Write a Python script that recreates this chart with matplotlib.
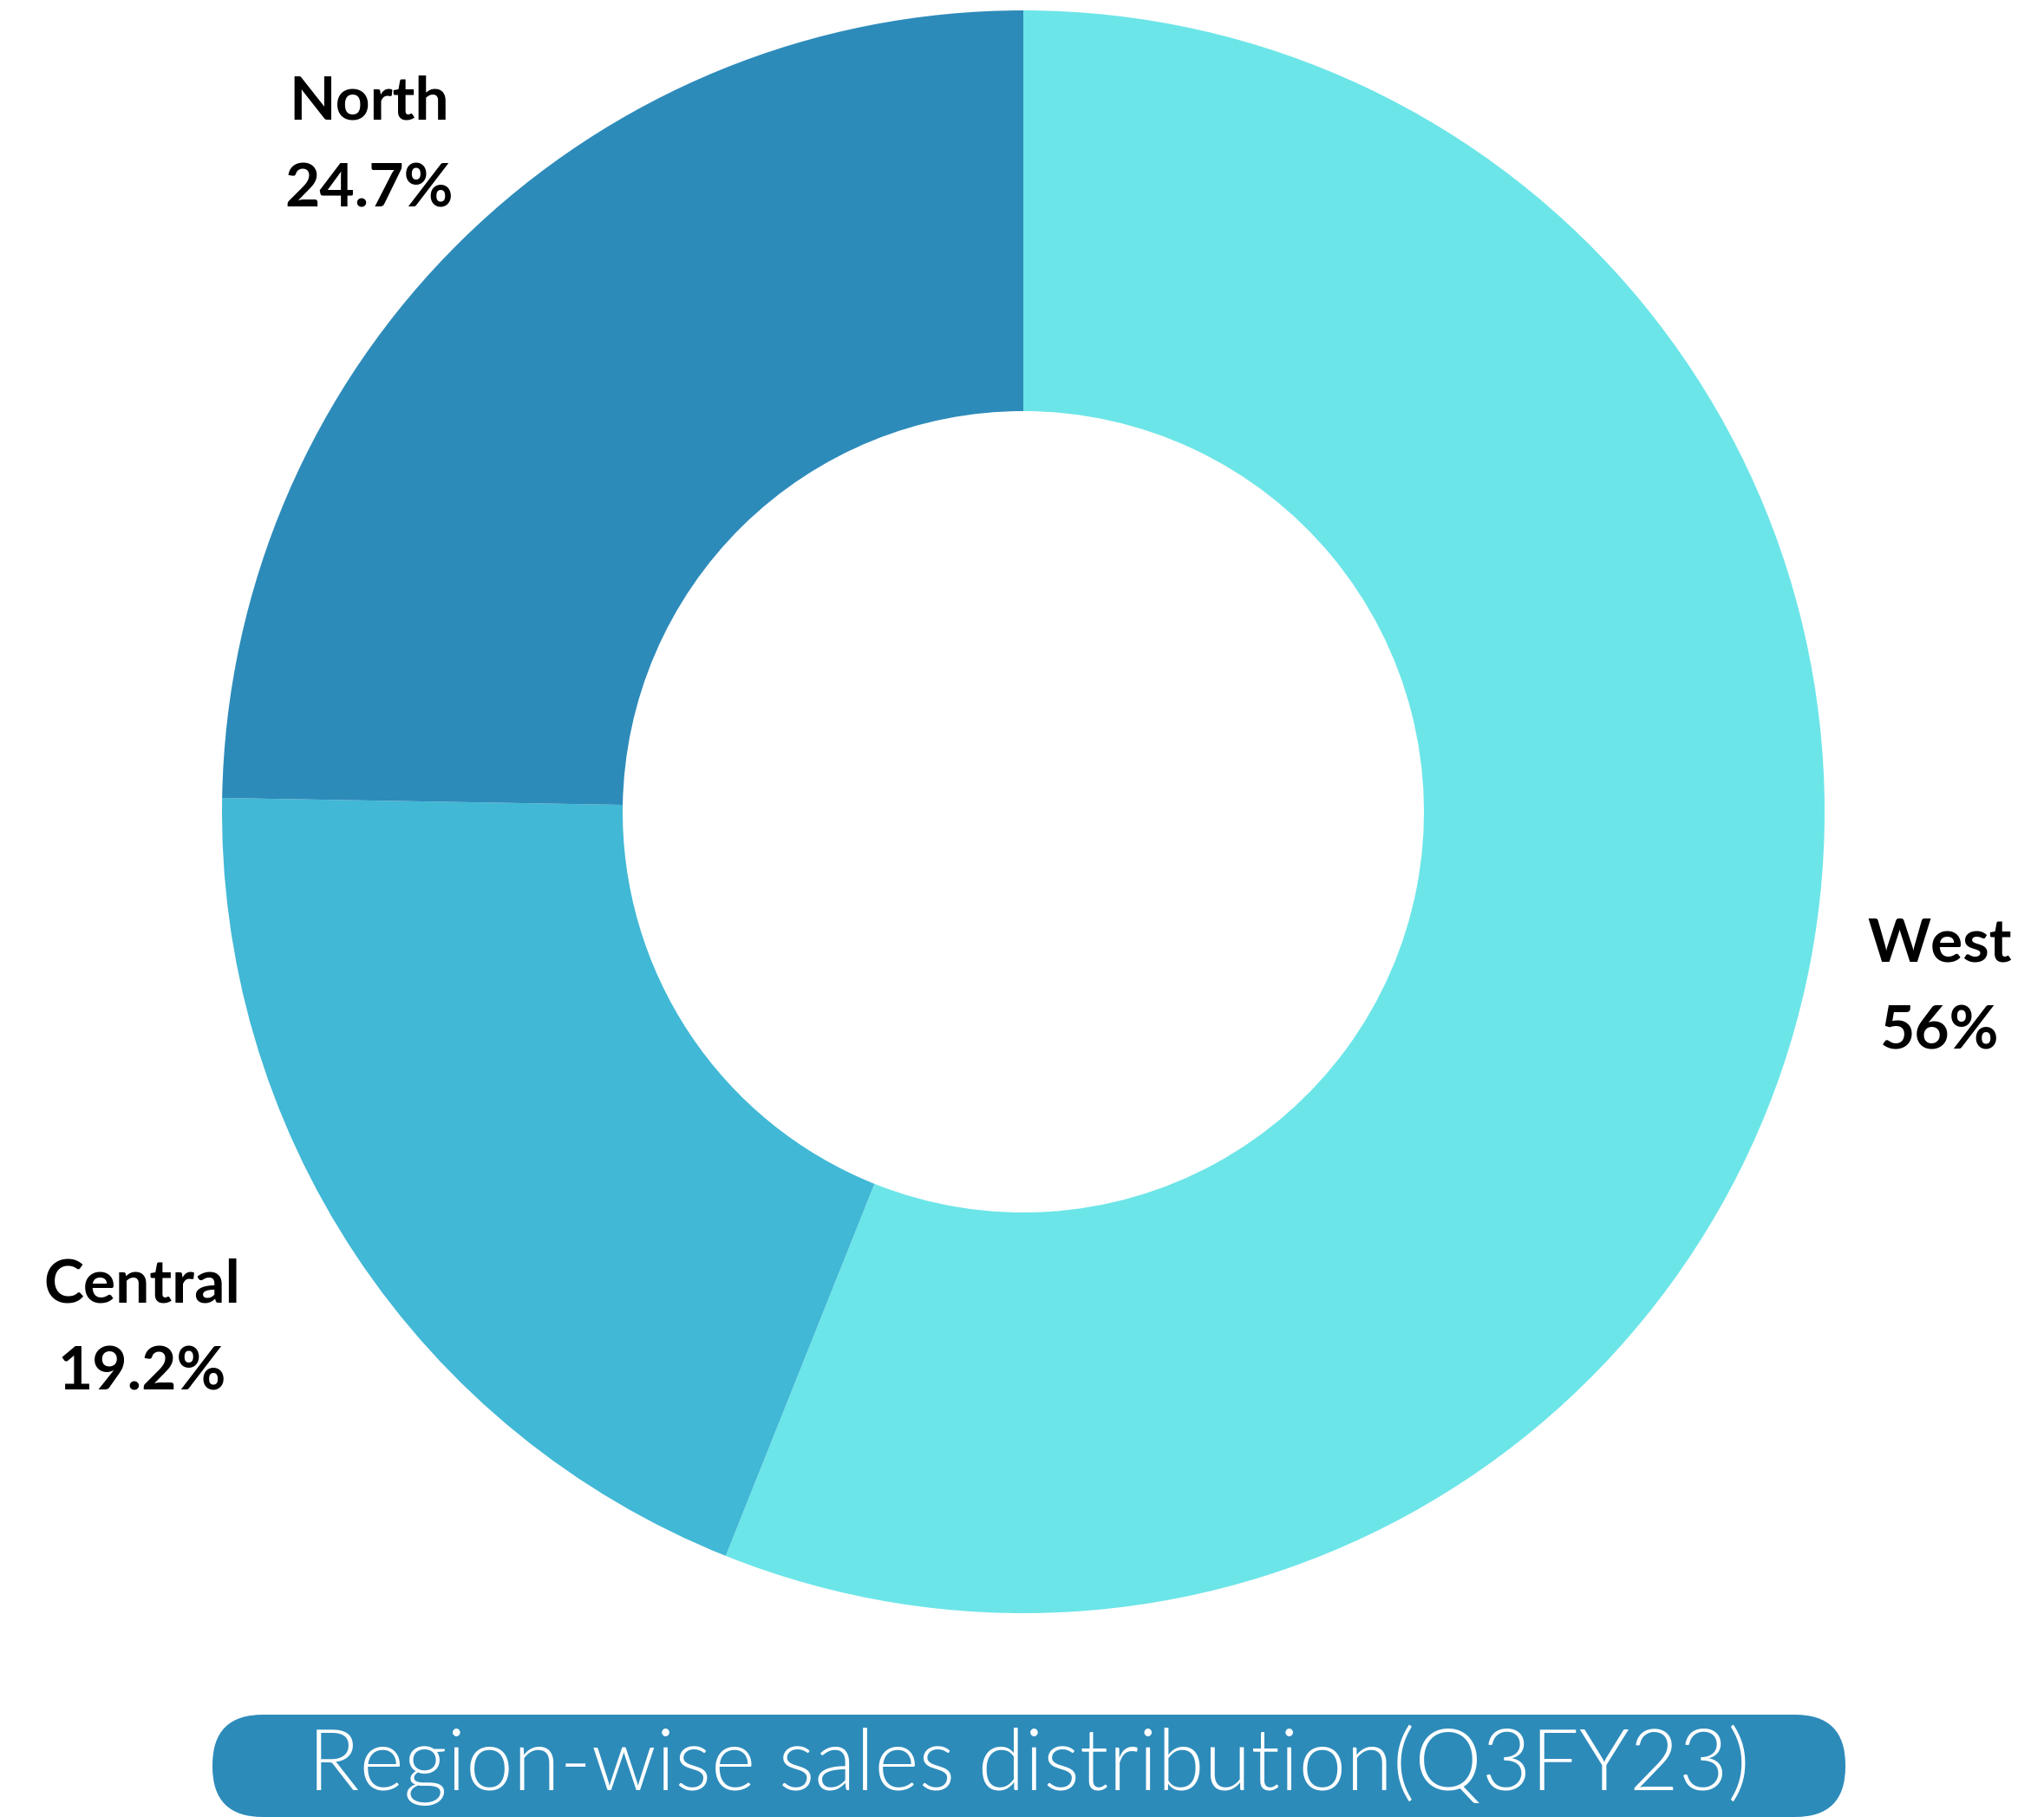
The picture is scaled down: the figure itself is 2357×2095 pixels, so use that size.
import numpy as np
import matplotlib
matplotlib.use('Agg')
import matplotlib.pyplot as plt
from matplotlib.patches import FancyBboxPatch

regions = ['West', 'Central', 'North']
shares = [56, 19.2, 24.7]
pct_labels = ['56%', '19.2%', '24.7%']
colors = ['#6CE5E8', '#41B8D5', '#2D8BBA']
title = 'Region-wise sales distribution(Q3FY23)'

fig = plt.figure(figsize=(23.57, 20.95), dpi=100)
ax = fig.add_axes([256 / 2357, 235 / 2095, 1848 / 2357, 1848 / 2095])

wedges, _ = ax.pie(shares, colors=colors, startangle=90, counterclock=False,
                   radius=1.0, wedgeprops=dict(width=0.5, linewidth=0))
ax.set_xlim(-1, 1)
ax.set_ylim(-1, 1)
ax.set_aspect('equal')
ax.axis('off')

# labels sit outside the ring, near each wedge's mid angle
dists = [1.165, 1.275, 1.165]
shifts = [0, -3.2, 0]
for w, name, pct, d, s in zip(wedges, regions, pct_labels, dists, shifts):
    ang = np.deg2rad((w.theta1 + w.theta2) / 2 + s)
    x, y = d * np.cos(ang), d * np.sin(ang)
    ax.text(x, y, name + '\n' + pct, ha='center', va='center',
            fontsize=50, fontweight='bold', family='Lato',
            linespacing=1.75, clip_on=False)

# title pill
fig.add_artist(FancyBboxPatch((245, 0), 1883, 118,
                              boxstyle='round,pad=0,rounding_size=58',
                              transform=None, facecolor='#2D8BBA',
                              edgecolor='none'))
fig.text(1186 / 2357, 60 / 2095, title, ha='center', va='center',
         color='white', fontsize=70.5, family='Lato', fontweight=300)

fig.savefig('out.png', dpi=100, facecolor='white')
